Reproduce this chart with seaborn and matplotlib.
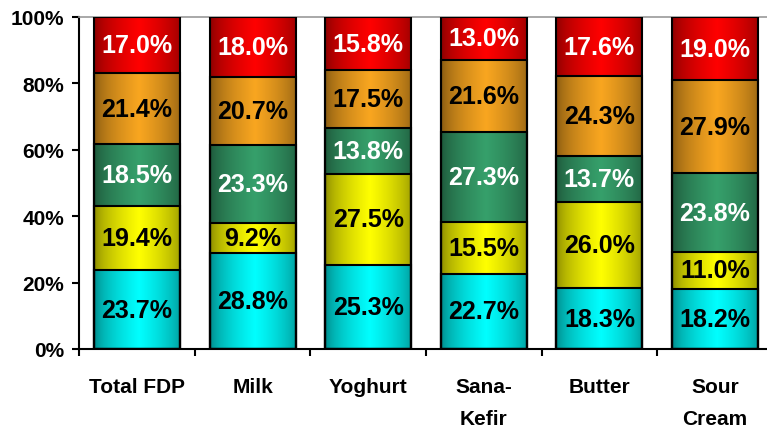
import numpy as np
import pandas as pd
import seaborn as sns
import matplotlib.pyplot as plt
from matplotlib.colors import to_rgb

categories = ["Total FDP", "Milk", "Yoghurt", "Sana-\nKefir", "Butter", "Sour\nCream"]
series_names = ["S1", "S2", "S3", "S4", "S5"]
s1 = [23.7, 28.8, 25.3, 22.7, 18.3, 18.2]
s2 = [19.4, 9.2, 27.5, 15.5, 26.0, 11.0]
s3 = [18.5, 23.3, 13.8, 27.3, 13.7, 23.8]
s4 = [21.4, 20.7, 17.5, 21.6, 24.3, 27.9]
s5 = [17.0, 18.0, 15.8, 13.0, 17.6, 19.0]
yticks = [0, 20, 40, 60, 80, 100]
ytick_labels = ["0%", "20%", "40%", "60%", "80%", "100%"]

series_vals = [s1, s2, s3, s4, s5]
series_colors = ["#00FFFF", "#FFFF00", "#36A06B", "#F9A620", "#FF0000"]
label_colors = ["black", "black", "white", "black", "white"]

sns.set_style("ticks")
plt.rcParams["font.family"] = ["Liberation Sans", "DejaVu Sans"]
plt.rcParams["font.weight"] = "bold"
plt.rcParams["text.color"] = "black"
plt.rcParams["xtick.color"] = "black"
plt.rcParams["ytick.color"] = "black"
plt.rcParams["xtick.labelcolor"] = "black"
plt.rcParams["ytick.labelcolor"] = "black"

fig = plt.figure(figsize=(7.67, 4.31), dpi=100)
ax = fig.add_axes([79.2 / 767, 81 / 431, (772.8 - 79.2) / 767, 332 / 431])

cum = np.cumsum(np.array(series_vals), axis=0)
bar_w = 0.744

order_k = list(range(len(series_vals)))[::-1]
groups = []
for k in order_k:
    n_before = len(ax.patches)
    sns.barplot(x=categories, y=cum[k], order=categories, width=bar_w,
                color=series_colors[k], ax=ax, edgecolor="black", linewidth=1.5,
                saturation=1)
    groups.append((k, ax.patches[n_before:]))

t = np.linspace(0, 1, 200)
prof = 1 - np.abs((t - 0.52) / 0.52)
prof = np.clip(prof, 0, 1) ** 0.55
fac = 0.5 + 0.5 * prof

for gi, (k, patches) in enumerate(groups):
    base = np.array(to_rgb(series_colors[k]))
    grad = (fac[:, None] * base[None, :])[None, :, :]
    for p in patches:
        x0, w, h = p.get_x(), p.get_width(), p.get_height()
        im = ax.imshow(grad, extent=[x0, x0 + w, 0, h], aspect="auto",
                       zorder=2 + gi * 0.1, interpolation="bilinear")
        im.set_clip_path(p)
        p.set_facecolor("none")
        p.set_zorder(10)

for k in range(len(series_vals)):
    for i, v in enumerate(series_vals[k]):
        mid = cum[k][i] - v / 2
        ax.text(i, mid, f"{v:.1f}%", ha="center", va="center", fontsize=18,
                fontweight="bold", color=label_colors[k], zorder=12)

ax.set_xlim(-0.5, 5.5)
ax.set_ylim(0, 100)
ax.set_yticks(yticks)
ax.set_yticklabels(ytick_labels, fontsize=15, fontweight="bold", color="black")
ax.tick_params(axis="y", length=5, width=1.5, pad=6, color="black")

ax.set_xticks(np.arange(-0.5, 6.0, 1.0))
ax.set_xticklabels([])
ax.set_xticks(np.arange(len(categories)), minor=True)
ax.set_xticklabels(categories, minor=True, fontsize=15, fontweight="bold",
                   linespacing=1.85, va="top", color="black")
ax.tick_params(axis="x", which="major", length=5, width=1.5, color="black")
ax.tick_params(axis="x", which="minor", length=0, pad=20)
ax.set_xlabel("")
ax.set_ylabel("")

for s in ["left", "bottom"]:
    ax.spines[s].set_color("black")
    ax.spines[s].set_linewidth(1.5)
ax.spines["top"].set_visible(True)
ax.spines["top"].set_color("#999999")
ax.spines["top"].set_linewidth(1.2)
ax.spines["right"].set_visible(False)

fig.savefig("out.png", dpi=100)
